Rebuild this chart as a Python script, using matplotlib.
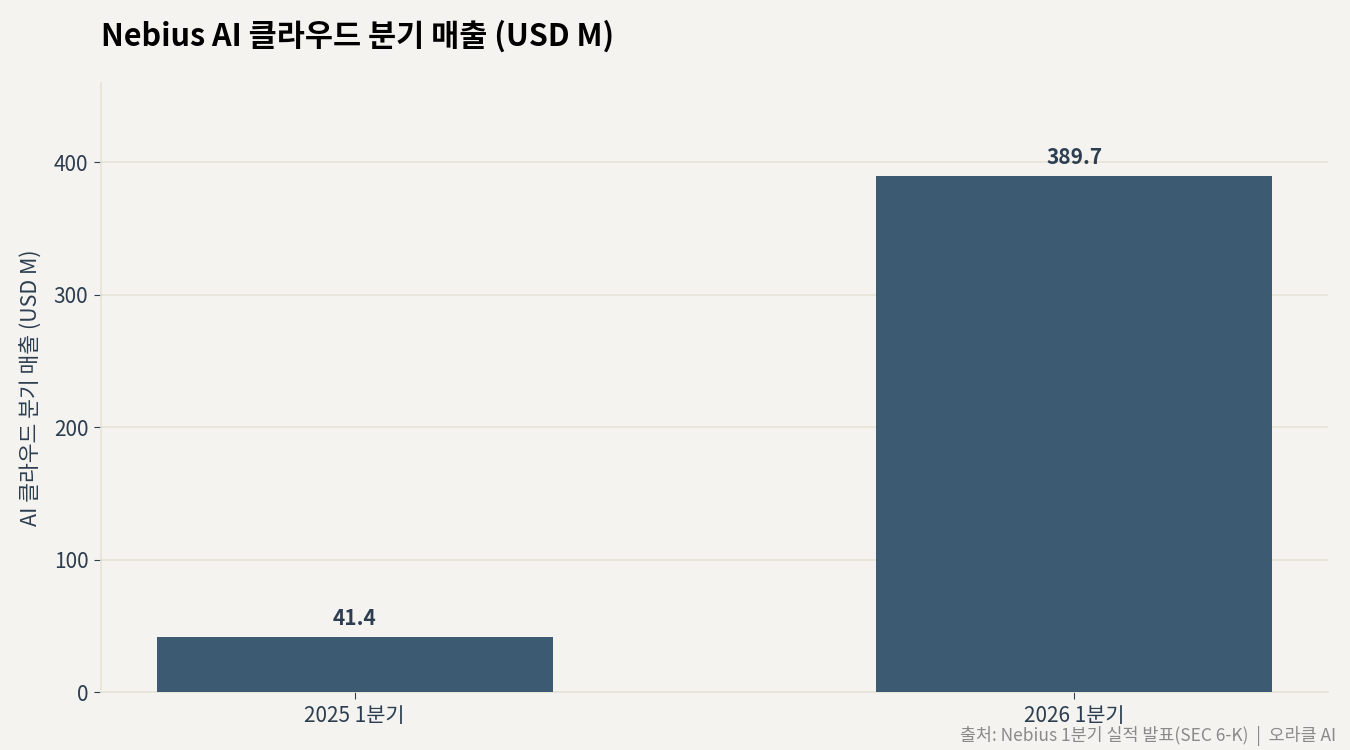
import matplotlib
matplotlib.use('Agg')
import matplotlib.pyplot as plt

plt.rcParams['font.family'] = ['Noto Sans CJK KR', 'DejaVu Sans']

# Data
quarters = ['2025 1분기', '2026 1분기']
revenue = [41.4, 389.7]

bg = '#f5f3ef'
bar_color = '#3d5a73'
text_color = '#2c3e50'
grid_color = '#e6e3d6'

fig = plt.figure(figsize=(13.5, 7.5), dpi=100, facecolor=bg)
ax = fig.add_axes([0.0748, 0.0773, 0.909, 0.812])
ax.set_facecolor(bg)

x = range(len(quarters))
bars = ax.bar(x, revenue, width=0.55, color=bar_color, zorder=3)

# value labels
for b, v in zip(bars, revenue):
    ax.annotate(f'{v:.1f}', (b.get_x() + b.get_width() / 2, v),
                xytext=(0, 6), textcoords='offset points',
                ha='center', va='bottom', fontsize=15, fontweight='bold',
                color=text_color)

ax.set_xticks(list(x))
ax.set_xticklabels(quarters)
ax.set_ylim(0, max(revenue) * 1.18)
ax.set_yticks([0, 100, 200, 300, 400])
ax.tick_params(axis='both', labelsize=15, colors=text_color, length=5)
ax.tick_params(axis='x', pad=4)
ax.tick_params(axis='y', pad=4)

ax.yaxis.grid(True, color=grid_color, linewidth=1.2, zorder=0)
ax.set_axisbelow(True)
for s in ['top', 'right']:
    ax.spines[s].set_visible(False)
for s in ['left', 'bottom']:
    ax.spines[s].set_color(grid_color)
    ax.spines[s].set_linewidth(1.2)

ax.set_ylabel('AI 클라우드 분기 매출 (USD M)', fontsize=15.5, color=text_color, labelpad=8)

fig.text(0.0748, 0.951, 'Nebius AI 클라우드 분기 매출 (USD M)', fontsize=22,
         fontweight='bold', color='black', ha='left', va='center')
fig.text(0.99, 0.019, '출처: Nebius 1분기 실적 발표(SEC 6-K)  |  오라클 AI', fontsize=12.5,
         color='#8a8a8a', ha='right', va='center')

fig.savefig('out.png', dpi=100, facecolor=bg)
